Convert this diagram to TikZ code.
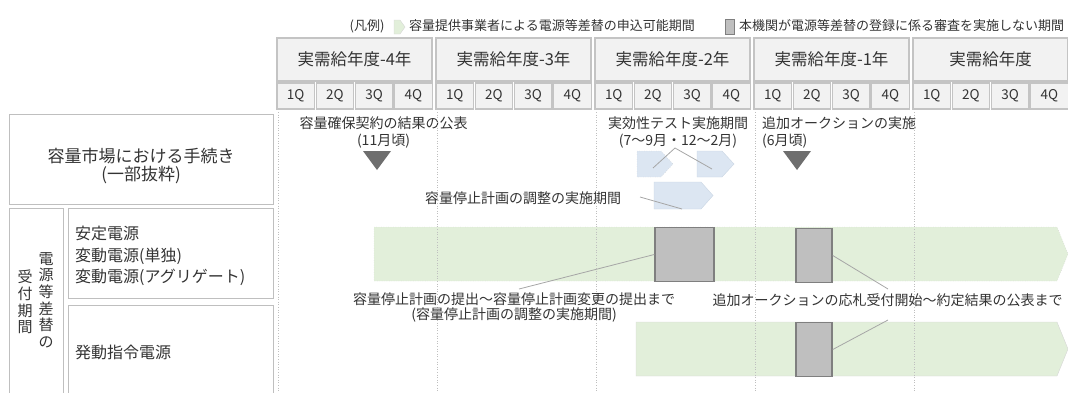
\documentclass[tikz,border=0pt]{standalone}
\usepackage{fontspec}
\setmainfont{Noto Sans CJK JP}
\usetikzlibrary{positioning}

\definecolor{kopfgrau}{HTML}{F2F2F2}
\definecolor{randgrau}{HTML}{C4C4C4}
\definecolor{feldrand}{HTML}{BFBFBF}
\definecolor{antrag}{HTML}{E2EFDA}
\definecolor{antragrand}{HTML}{D6D6D6}
\definecolor{testblau}{HTML}{DCE6F2}
\definecolor{testrand}{HTML}{C9D5E3}
\definecolor{sperrgrau}{HTML}{BFBFBF}
\definecolor{sperrrand}{HTML}{7F7F7F}
\definecolor{marker}{HTML}{6E6E6E}
\definecolor{schrift}{HTML}{333333}
\definecolor{zeiger}{HTML}{A6A6A6}

\tikzset{
    jahrbox/.style={draw=randgrau, fill=kopfgrau, line width=1.2pt, minimum width=155pt, minimum height=43pt, inner sep=0pt, font=\fontsize{16.5}{18}\selectfont},
    quartalbox/.style={draw=randgrau, fill=kopfgrau, line width=1.2pt, minimum width=37.5pt, minimum height=26pt, inner sep=0pt, font=\fontsize{13.5}{15}\selectfont},
    feldbox/.style={draw=feldrand, line width=1pt, inner sep=0pt},
    sperrbox/.style={draw=sperrrand, fill=sperrgrau, line width=1.5pt, inner sep=0pt},
    txt/.style={inner sep=0pt, font=\fontsize{14}{17}\selectfont},
    legende/.style={inner sep=0pt, font=\fontsize{13}{15}\selectfont},
    zeigerlinie/.style={draw=zeiger, line width=0.8pt},
    raster/.style={draw=feldrand, dotted, line width=0.6pt}
}

\begin{document}
\begin{tikzpicture}[x=1pt, y=-1pt, every node/.style={text=schrift}]
    \useasboundingbox (0,0) rectangle (1068,392);

    % Legende
    \node[legende] (legende) at (367,26) {(凡例)};
    \draw[fill=antrag, draw=antragrand] (394,20) -- (400,20) -- (405,27) -- (400,34) -- (394,34) -- cycle;
    \node[legende, anchor=west] (legantrag) at (409,26) {容量提供事業者による電源等差替の申込可能期間};
    \draw[sperrbox, line width=1pt] (725,19) rectangle (734,34);
    \node[legende, anchor=west] (legsperre) at (739,26) {本機関が電源等差替の登録に係る審査を実施しない期間};

    % Kopfzeile
    \foreach \k/\jahr in {0/実需給年度-4年,1/実需給年度-3年,2/実需給年度-2年,3/実需給年度-1年,4/実需給年度} {
        \pgfmathsetmacro{\xj}{277+159*\k}
        \node[jahrbox] (jahr\k) at (\xj+77.5,59.5) {\jahr};
        \foreach \q in {1,...,4} {
            \pgfmathsetmacro{\xq}{\xj+(\q-1)*39.2+18.75}
            \node[quartalbox] (q\k\q) at (\xq,96) {\q Q};
        }
    }

    % Linke Spalte
    \node[feldbox, minimum width=264pt, minimum height=90pt] (markt) at (141,159) {};
    \node[txt, align=center, font=\fontsize{17}{18.5}\selectfont] (markttext) at (141,166) {容量市場における手続き\\(一部抜粋)};
    \node[feldbox, minimum width=54pt, minimum height=190pt] (frist) at (36,303) {};
    \node[txt, align=center, font=\fontsize{15}{16.7}\selectfont] (fristrechts) at (46,300) {電\\源\\等\\差\\替\\の};
    \node[txt, align=center, font=\fontsize{15}{16.7}\selectfont] (fristlinks) at (25,302) {受\\付\\期\\間};
    \node[feldbox, minimum width=205pt, minimum height=90pt] (stabil) at (170.5,253) {};
    \node[txt, anchor=west, align=left, font=\fontsize{16}{21.5}\selectfont] (stabiltext) at (75,256) {安定電源\\変動電源(単独)\\変動電源(アグリゲート)};
    \node[feldbox, minimum width=205pt, minimum height=92pt] (abruf) at (170.5,351) {};
    \node[txt, anchor=west, font=\fontsize{16}{18}\selectfont] (abruftext) at (75,352) {発動指令電源};

    % Termine
    \node[txt, align=center] (ergebnis) at (383.5,132.5) {容量確保契約の結果の公表\\(11月頃)};
    \fill[marker] (363,151) -- (391,151) -- (377,170) -- cycle;
    \node[txt, align=center] (testzeit) at (678,132.5) {実効性テスト実施期間\\(7～9月・12～2月)};
    \node[txt, anchor=west, align=left] (zusatz) at (762,132.5) {追加オークションの実施\\(6月頃)};
    \fill[marker] (783,151) -- (811,151) -- (797,170) -- cycle;

    % Testzeitraum
    \draw[fill=testblau, draw=randgrau, dotted] (637,151) -- (661,151) -- (673,164) -- (661,177) -- (637,177) -- cycle;
    \draw[fill=testblau, draw=testrand] (697,151) -- (722,151) -- (734,164) -- (722,177) -- (697,177) -- cycle;
    \draw[fill=testblau, draw=testrand] (654,182) -- (701,182) -- (713,195.5) -- (701,209) -- (654,209) -- cycle;
    \coordinate (testspitze) at (675,148);
    \coordinate (testa) at (653,168);
    \coordinate (testb) at (712,169);
    \draw[zeigerlinie] (testa) -- (testspitze) -- (testb);
    \node[txt] (anpassung) at (523,198) {容量停止計画の調整の実施期間};
    \coordinate (anpassunga) at (640,197);
    \coordinate (anpassungb) at (682,209);
    \draw[zeigerlinie] (anpassunga) -- (anpassungb);

    % Annahmezeitraum
    \draw[fill=antrag, draw=randgrau, dotted] (374,227) -- (1057,227) -- (1068,254) -- (1057,281) -- (374,281) -- cycle;
    \draw[fill=antrag, draw=antragrand] (636,322) -- (1057,322) -- (1068,349) -- (1057,376) -- (636,376) -- cycle;

    % Raster
    \foreach \k in {0,...,4} {
        \draw[raster] (278+159*\k,112) -- (278+159*\k,392);
    }

    % Sperrzeiten
    \node[sperrbox, minimum width=59pt, minimum height=54pt] (sperre1) at (684.5,254.5) {};
    \node[sperrbox, minimum width=36pt, minimum height=54pt] (sperre2) at (814,255.5) {};
    \node[sperrbox, minimum width=36pt, minimum height=54pt] (sperre3) at (814,349.5) {};
    \node[txt, align=center, font=\fontsize{14}{15.5}\selectfont] (plantext) at (514,307.5) {容量停止計画の提出～容量停止計画変更の提出まで\\(容量停止計画の調整の実施期間)};
    \node[txt] (auktiontext) at (887.5,300) {追加オークションの応札受付開始～約定結果の公表まで};
    \coordinate (planpunkt) at (519,289);
    \coordinate (auktionoben) at (888,289);
    \coordinate (auktionunten) at (888,320);
    \draw[zeigerlinie] (sperre1.west) -- (planpunkt);
    \draw[zeigerlinie] (sperre2.east) -- (auktionoben);
    \draw[zeigerlinie] (sperre3.east) -- (auktionunten);
\end{tikzpicture}
\end{document}
